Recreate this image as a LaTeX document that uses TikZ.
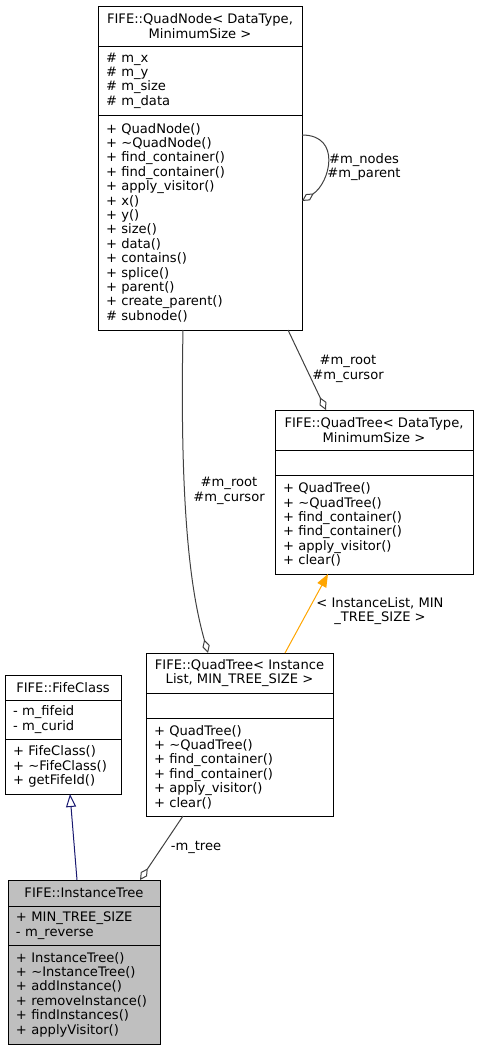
\documentclass[tikz,border=0pt]{standalone}
\usepackage{fontspec}
\setmainfont{DejaVu Sans}
\usepackage{tikz}
\usetikzlibrary{positioning,arrows.meta}
\newcommand{\umlfont}{\fontsize{13.1}{14.4}\selectfont}
\definecolor{edgegray}{HTML}{404040}
\definecolor{basefill}{HTML}{BFBFBF}
\definecolor{inhblue}{HTML}{191970}
\definecolor{tmplorange}{HTML}{FFA500}

\begin{document}
\begin{tikzpicture}[x=1pt, y=-1pt, every node/.style={font=\umlfont},
  box/.style={draw, line width=0.9pt, inner xsep=8pt, inner ysep=0pt, outer sep=0pt, anchor=north west},
  head/.style={box, align=center, minimum width=#1},
  part/.style={box, align=left, text width=#1},
  lbl/.style={align=center, inner sep=0pt},
  assoc/.style={draw=edgegray, line width=1pt, -{Diamond[open, length=14pt, width=7.5pt]}},
  inherit/.style={draw=inhblue, line width=1pt, -{Triangle[open, length=13pt, width=10pt]}},
  tmpl/.style={draw=tmplorange, line width=1pt, -{Triangle[fill=tmplorange, length=13pt, width=10pt]}}]
\useasboundingbox (0,0) rectangle (478,1051);

% QuadNode
\node[head=204, minimum height=40] (QNt) at (98,6) {FIFE::QuadNode< DataType,\\MinimumSize >};
\node[part=188, minimum height=69, below=0pt of QNt] (QNa) {\#~m\_x\\\#~m\_y\\\#~m\_size\\\#~m\_data};
\node[part=188, minimum height=215, below=0pt of QNa] (QNm) {+ QuadNode()\\+ \textasciitilde QuadNode()\\+ find\_container()\\+ find\_container()\\+ apply\_visitor()\\+ x()\\+ y()\\+ size()\\+ data()\\+ contains()\\+ splice()\\+ parent()\\+ create\_parent()\\\#~subnode()};

% QuadTree< DataType, MinimumSize >
\node[head=198, minimum height=40] (QTt) at (275,410) {FIFE::QuadTree< DataType,\\MinimumSize >};
\node[part=182, minimum height=25, below=0pt of QTt] (QTa) {};
\node[part=182, minimum height=99, below=0pt of QTa] (QTm) {+ QuadTree()\\+ \textasciitilde QuadTree()\\+ find\_container()\\+ find\_container()\\+ apply\_visitor()\\+ clear()};

% QuadTree< InstanceList, MIN_TREE_SIZE >
\node[head=187, minimum height=40] (QIt) at (146,653) {FIFE::QuadTree< Instance\\List, MIN\_TREE\_SIZE >};
\node[part=171, minimum height=25, below=0pt of QIt] (QIa) {};
\node[part=171, minimum height=98, below=0pt of QIa] (QIm) {+ QuadTree()\\+ \textasciitilde QuadTree()\\+ find\_container()\\+ find\_container()\\+ apply\_visitor()\\+ clear()};

% FifeClass
\node[head=116, minimum height=25] (FCt) at (5,675) {FIFE::FifeClass};
\node[part=100, minimum height=39, below=0pt of FCt] (FCa) {- m\_fifeid\\- m\_curid};
\node[part=100, minimum height=55, below=0pt of FCa] (FCm) {+ FifeClass()\\+ \textasciitilde FifeClass()\\+ getFifeId()};

% InstanceTree
\node[head=152, minimum height=26, fill=basefill] (ITt) at (8,880) {FIFE::InstanceTree};
\node[part=136, minimum height=39, fill=basefill, below=0pt of ITt] (ITa) {+ MIN\_TREE\_SIZE\\- m\_reverse};
\node[part=136, minimum height=99, fill=basefill, below=0pt of ITa] (ITm) {+ InstanceTree()\\+ \textasciitilde InstanceTree()\\+ addInstance()\\+ removeInstance()\\+ findInstances()\\+ applyVisitor()};

% connectors
\draw[assoc] ([yshift=-20pt]QNm.north east) .. controls +(40,0) and +(28,-18) .. ([yshift=-86pt]QNm.north east);
\draw[assoc] ([xshift=190pt]QNm.south west) -- ([xshift=51pt]QTt.north west);
\draw[assoc] ([xshift=85pt]QNm.south west) .. controls +(-4,200) and +(-14,-50) .. ([xshift=62pt]QIt.north west);
\draw[tmpl] ([xshift=139pt]QIt.north west) -- ([xshift=53pt]QTm.south west);
\draw[inherit] ([xshift=69pt]ITt.north west) -- ([xshift=65pt]FCm.south west);
\draw[assoc] ([xshift=37pt]QIm.south west) -- ([xshift=132pt]ITt.north west);

% labels
\node[lbl] (Lnodes) at (364,167) {\#m\_nodes\\\#m\_parent};
\node[lbl] (Lroot) at (348,369) {\#m\_root\\\#m\_cursor};
\node[lbl] (Lrootb) at (229,491) {\#m\_root\\\#m\_cursor};
\node[lbl] (Ltmpl) at (380,611) {< InstanceList, MIN\\\_TREE\_SIZE >};
\node[lbl] (Ltree) at (196,847) {-m\_tree};
\end{tikzpicture}
\end{document}
